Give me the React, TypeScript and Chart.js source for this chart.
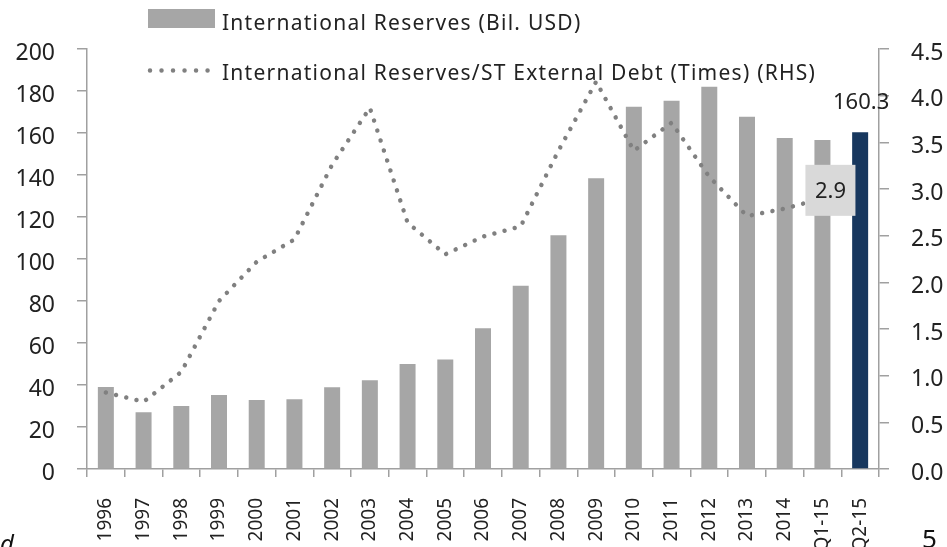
import React, { useEffect, useRef } from "react";
import { Chart, registerables } from "chart.js";

Chart.register(...registerables);

const categories = [
  "1996", "1997", "1998", "1999", "2000", "2001", "2002", "2003", "2004", "2005",
  "2006", "2007", "2008", "2009", "2010", "2011", "2012", "2013", "2014", "Q1-15", "Q2-15",
];

const reservesBilUSD = [
  39, 27, 30, 35.2, 32.8, 33.2, 38.9, 42.3, 50, 52.1,
  67, 87.3, 111.3, 138.4, 172.5, 175.4, 182, 167.7, 157.6, 156.7, 160.3,
];

const reservesToSTDebt: (number | null)[] = [
  0.82, 0.72, 1.04, 1.8, 2.22, 2.46, 3.26, 3.87, 2.64, 2.3,
  2.49, 2.6, 3.41, 4.15, 3.41, 3.71, 3.13, 2.71, 2.79, 2.9, null,
];

const leftTicks = { min: 0, max: 200, step: 20 };
const rightTicks = { min: 0, max: 4.5, step: 0.5 };

const legendLabels = [
  "International Reserves (Bil. USD)",
  "International Reserves/ST External Debt (Times) (RHS)",
];

const barLabelIndex = 20;
const lineLabelIndex = 19;

const FONT = "'Noto Sans', sans-serif";
const TEXT = "#222222";
const AXIS = "#a0a0a0";
const BAR_GRAY = "#a6a6a6";
const BAR_NAVY = "#17375e";
const LINE_GRAY = "#808080";

const overlayPlugin = {
  id: "overlay",
  afterDatasetsDraw(chart: any) {
    const ctx = chart.ctx as CanvasRenderingContext2D;
    ctx.save();
    const barMeta = chart.getDatasetMeta(1);
    const bar = barMeta.data[barLabelIndex];
    if (bar) {
      ctx.font = `22px ${FONT}`;
      ctx.fillStyle = TEXT;
      ctx.textAlign = "center";
      ctx.textBaseline = "middle";
      ctx.fillText(reservesBilUSD[barLabelIndex].toFixed(1), bar.x + 1, bar.y - 30);
    }
    const lineMeta = chart.getDatasetMeta(0);
    const pt = lineMeta.data[lineLabelIndex];
    const v = reservesToSTDebt[lineLabelIndex];
    if (pt && v != null) {
      const cx = pt.x + 8;
      const cy = pt.y - 8;
      ctx.fillStyle = "#d9d9d9";
      ctx.fillRect(cx - 25, cy - 25.5, 50, 51);
      ctx.font = `22px ${FONT}`;
      ctx.fillStyle = TEXT;
      ctx.textAlign = "center";
      ctx.textBaseline = "middle";
      ctx.fillText(v.toFixed(1), cx, cy + 1);
    }
    ctx.restore();
  },
  afterDraw(chart: any) {
    const ctx = chart.ctx as CanvasRenderingContext2D;
    ctx.save();
    ctx.fillStyle = BAR_GRAY;
    ctx.fillRect(148, 9, 67, 19);
    ctx.font = `21px ${FONT}`;
    (ctx as any).letterSpacing = "1.25px";
    ctx.fillStyle = TEXT;
    ctx.textAlign = "left";
    ctx.textBaseline = "alphabetic";
    ctx.fillText(legendLabels[0], 222, 30);
    ctx.strokeStyle = LINE_GRAY;
    ctx.lineWidth = 4.5;
    ctx.lineCap = "round";
    ctx.setLineDash([0.01, 11.5]);
    ctx.beginPath();
    ctx.moveTo(150, 70.5);
    ctx.lineTo(209, 70.5);
    ctx.stroke();
    ctx.setLineDash([]);
    ctx.fillText(legendLabels[1], 222, 80);
    ctx.restore();
  },
};

export default function App() {
  const canvasRef = useRef<HTMLCanvasElement | null>(null);

  useEffect(() => {
    if (!canvasRef.current) return;
    const chart = new Chart(canvasRef.current, {
      type: "bar",
      data: {
        labels: categories,
        datasets: [
          {
            type: "line",
            label: legendLabels[1],
            data: reservesToSTDebt,
            yAxisID: "y1",
            borderColor: LINE_GRAY,
            borderWidth: 4.5,
            borderDash: [0.01, 10.5],
            borderCapStyle: "round",
            pointRadius: 0,
            tension: 0,
            fill: false,
            order: 1,
          } as any,
          {
            type: "bar",
            label: legendLabels[0],
            data: reservesBilUSD,
            yAxisID: "y",
            backgroundColor: categories.map((_, i) => (i === categories.length - 1 ? BAR_NAVY : BAR_GRAY)),
            barPercentage: 0.424,
            categoryPercentage: 1,
            order: 2,
          },
        ],
      },
      options: {
        responsive: false,
        animation: false,
        layout: { padding: { top: 49, left: 0, right: 0, bottom: 0 } },
        plugins: {
          legend: { display: false },
          tooltip: { enabled: false },
          title: { display: false },
        },
        scales: {
          x: {
            type: "category",
            offset: true,
            grid: {
              offset: true,
              drawOnChartArea: false,
              drawTicks: true,
              tickLength: 8,
              color: AXIS,
              lineWidth: 1.5,
            },
            border: { color: AXIS, width: 1.5 },
            ticks: {
              autoSkip: false,
              minRotation: 90,
              maxRotation: 90,
              padding: 21,
              color: TEXT,
              font: { family: FONT, size: 19 },
            },
            afterFit: (s: any) => {
              s.height = 78;
            },
          },
          y: {
            type: "linear",
            position: "left",
            min: leftTicks.min,
            max: leftTicks.max,
            grid: {
              drawOnChartArea: false,
              drawTicks: true,
              tickLength: 10,
              color: AXIS,
              lineWidth: 1.5,
            },
            border: { color: AXIS, width: 1.5 },
            ticks: {
              stepSize: leftTicks.step,
              padding: 22,
              labelOffset: 4,
              color: TEXT,
              font: { family: FONT, size: 23 },
            },
            afterFit: (s: any) => {
              s.width = 87;
            },
          },
          y1: {
            type: "linear",
            position: "right",
            min: rightTicks.min,
            max: rightTicks.max,
            grid: {
              drawOnChartArea: false,
              drawTicks: true,
              tickLength: 10,
              color: AXIS,
              lineWidth: 1.5,
            },
            border: { color: AXIS, width: 1.5 },
            ticks: {
              stepSize: rightTicks.step,
              padding: 22,
              labelOffset: 4,
              color: TEXT,
              font: { family: FONT, size: 23 },
              callback: (val: any) => Number(val).toFixed(1),
            },
            afterFit: (s: any) => {
              s.width = 68;
            },
          },
        },
      },
      plugins: [overlayPlugin],
    });
    return () => chart.destroy();
  }, []);

  return (
    <div
      style={{
        position: "absolute",
        left: 0,
        top: 0,
        width: 947,
        height: 547,
        overflow: "hidden",
        background: "#ffffff",
      }}
    >
      <canvas ref={canvasRef} width={947} height={547} style={{ display: "block" }} />
      <span
        style={{
          position: "absolute",
          left: 0,
          top: 531,
          fontFamily: FONT,
          fontStyle: "italic",
          fontSize: 24,
          lineHeight: 1,
          color: "#111",
        }}
      >
        d
      </span>
      <span
        style={{
          position: "absolute",
          left: 922,
          top: 525,
          fontFamily: FONT,
          fontSize: 26,
          lineHeight: 1,
          color: "#111",
        }}
      >
        5
      </span>
    </div>
  );
}
